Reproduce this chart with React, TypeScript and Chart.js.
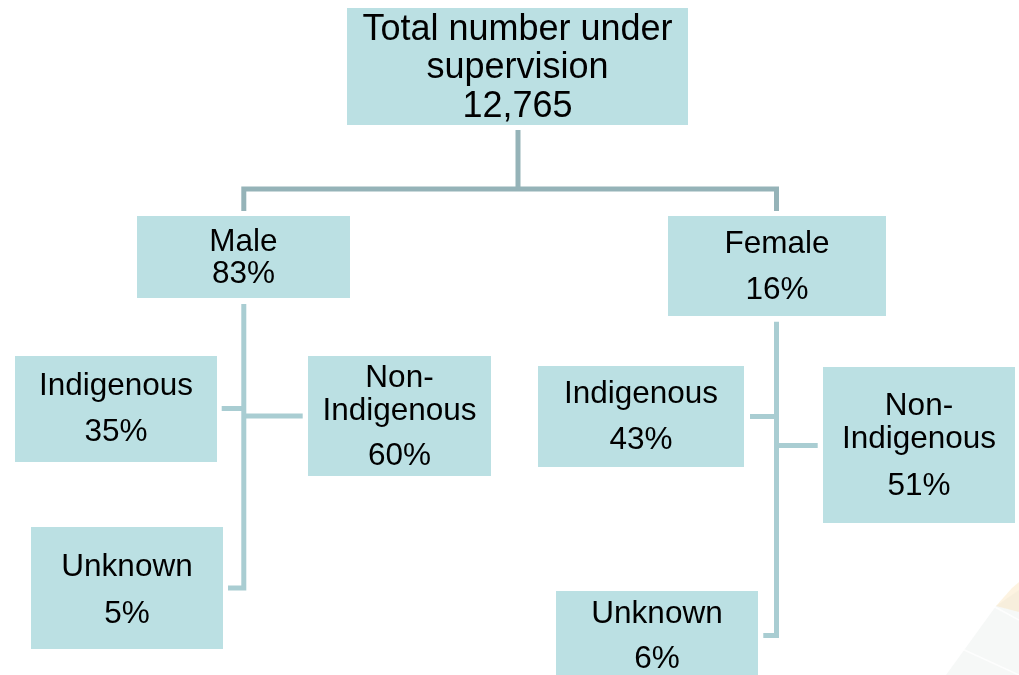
import React, { useEffect, useRef } from "react";
import { Chart, registerables } from "chart.js";

Chart.register(...registerables);

// ---- Data ----
const ROOT_LABEL = "Total number under supervision";
const TOTAL_SUPERVISED = 12765;
const GENDER_LABELS = ["Male", "Female"];
const GENDER_SHARES = [83, 16];
const GROUP_LABELS = ["Indigenous", "Non-Indigenous", "Unknown"];
const MALE_GROUP_SHARES = [35, 60, 5];
const FEMALE_GROUP_SHARES = [43, 51, 6];

// ---- Layout (axis units = pixels of a 1019x675 page) ----
type Box = { x0: number; x1: number; y0: number; y1: number; baselines: number[]; font: number };
const ROOT_BOX: Box = { x0: 347, x1: 688, y0: 8, y1: 125, baselines: [40, 78, 117], font: 36 };
const GENDER_BOXES: Box[] = [
  { x0: 137, x1: 350, y0: 216, y1: 298, baselines: [251, 283], font: 31.5 },
  { x0: 668, x1: 886, y0: 216, y1: 316, baselines: [253, 299], font: 31.5 },
];
const GROUP_BOXES: Box[][] = [
  [
    { x0: 15, x1: 217, y0: 356, y1: 462, baselines: [395, 441], font: 31.5 },
    { x0: 308, x1: 491, y0: 356, y1: 476, baselines: [387, 420, 465], font: 31.5 },
    { x0: 31, x1: 223, y0: 527, y1: 649, baselines: [576, 623], font: 31.5 },
  ],
  [
    { x0: 538, x1: 744, y0: 366, y1: 467, baselines: [403, 449], font: 31.5 },
    { x0: 823, x1: 1015, y0: 367, y1: 523, baselines: [415, 448, 495], font: 31.5 },
    { x0: 556, x1: 758, y0: 591, y1: 685, baselines: [623, 668], font: 31.5 },
  ],
];
// connector trunks for each gender
const TRUNKS = [
  { x: 243.8, top: 304, bottom: 588, hookX: 228, leftX: 221.7, leftY: 408.5, rightX: 302.7, rightY: 416 },
  { x: 776.5, top: 321.7, bottom: 635.5, hookX: 763.3, leftX: 750, leftY: 416.5, rightX: 817.7, rightY: 445.5 },
];
const ROOT_STEM = { x: 518, top: 130, bar: 189, drop: 211 };

const BOX_FILL = "#BBE0E3";
const DARK_LINE = "#95B3B8";
const LIGHT_LINE = "#A9CDD2";
const FONT_FAMILY = "'Liberation Sans', Arial, sans-serif";

function wrapLabel(ctx: CanvasRenderingContext2D, text: string, maxWidth: number): string[] {
  const tokens: string[] = [];
  text.split(" ").forEach((w, i, arr) => {
    const parts = w.split(/(?<=-)/);
    parts.forEach((p, j) => tokens.push(p + (j === parts.length - 1 && i < arr.length - 1 ? " " : "")));
  });
  const lines: string[] = [];
  let cur = "";
  for (const t of tokens) {
    const test = cur + t;
    if (cur && ctx.measureText(test.trimEnd()).width > maxWidth) {
      lines.push(cur.trimEnd());
      cur = t;
    } else cur = test;
  }
  if (cur) lines.push(cur.trimEnd());
  return lines;
}

function seg(points: { x: number; y: number }[], color: string) {
  return {
    type: "scatter" as const,
    data: points,
    showLine: true,
    borderColor: color,
    borderWidth: 5,
    pointRadius: 0,
    pointHoverRadius: 0,
    fill: false,
    tension: 0,
    borderJoinStyle: "miter" as const,
    borderCapStyle: "butt" as const,
  };
}

export default function App() {
  const ref = useRef<HTMLCanvasElement | null>(null);

  useEffect(() => {
    document.body.style.margin = "0";
    const canvas = ref.current;
    if (!canvas) return;

    const datasets: any[] = [];
    datasets.push(seg([{ x: ROOT_STEM.x, y: ROOT_STEM.top }, { x: ROOT_STEM.x, y: ROOT_STEM.bar }], DARK_LINE));
    datasets.push(
      seg(
        [
          { x: TRUNKS[0].x, y: ROOT_STEM.drop },
          { x: TRUNKS[0].x, y: ROOT_STEM.bar },
          { x: TRUNKS[1].x, y: ROOT_STEM.bar },
          { x: TRUNKS[1].x, y: ROOT_STEM.drop },
        ],
        DARK_LINE
      )
    );
    TRUNKS.forEach((t) => {
      datasets.push(
        seg(
          [
            { x: t.x, y: t.top },
            { x: t.x, y: t.bottom },
            { x: t.hookX, y: t.bottom },
          ],
          LIGHT_LINE
        )
      );
      datasets.push(seg([{ x: t.leftX, y: t.leftY }, { x: t.x, y: t.leftY }], LIGHT_LINE));
      datasets.push(seg([{ x: t.x, y: t.rightY }, { x: t.rightX, y: t.rightY }], LIGHT_LINE));
    });

    type Node = { box: Box; label: string; value: string };
    const nodes: Node[] = [
      { box: ROOT_BOX, label: ROOT_LABEL, value: TOTAL_SUPERVISED.toLocaleString("en-US") },
    ];
    GENDER_LABELS.forEach((g, i) => {
      nodes.push({ box: GENDER_BOXES[i], label: g, value: GENDER_SHARES[i] + "%" });
      const shares = i === 0 ? MALE_GROUP_SHARES : FEMALE_GROUP_SHARES;
      GROUP_LABELS.forEach((lab, j) => {
        nodes.push({ box: GROUP_BOXES[i][j], label: lab, value: shares[j] + "%" });
      });
    });

    const diagramPlugin = {
      id: "diagram",
      beforeDatasetsDraw(chart: any) {
        const { ctx, scales } = chart;
        const X = (v: number) => scales.x.getPixelForValue(v);
        const Y = (v: number) => scales.y.getPixelForValue(v);
        ctx.save();
        // faint background decoration (bottom-right)
        const poly = (pts: number[][], fill: string) => {
          ctx.beginPath();
          pts.forEach(([a, b], k) => (k ? ctx.lineTo(X(a), Y(b)) : ctx.moveTo(X(a), Y(b))));
          ctx.closePath();
          ctx.fillStyle = fill;
          ctx.fill();
        };
        poly([[946, 675], [996, 606], [1019, 590], [1019, 675]], "rgba(236,239,237,0.45)");
        poly([[996, 606], [1012, 588], [1019, 582], [1019, 612]], "rgba(250,226,180,0.4)");
        ctx.strokeStyle = "rgba(255,255,255,0.8)";
        ctx.lineWidth = 1.5;
        ctx.beginPath();
        ctx.moveTo(X(960), Y(648));
        ctx.lineTo(X(1019), Y(675));
        ctx.moveTo(X(995), Y(607));
        ctx.lineTo(X(1019), Y(620));
        ctx.stroke();
        // boxes
        ctx.fillStyle = BOX_FILL;
        nodes.forEach(({ box }) => {
          const x0 = X(box.x0), x1 = X(box.x1), y0 = Y(box.y0), y1 = Y(box.y1);
          ctx.fillRect(x0, y0, x1 - x0, y1 - y0);
        });
        ctx.restore();
      },
      afterDatasetsDraw(chart: any) {
        const { ctx, scales } = chart;
        const X = (v: number) => scales.x.getPixelForValue(v);
        const Y = (v: number) => scales.y.getPixelForValue(v);
        ctx.save();
        ctx.fillStyle = "#000";
        ctx.textAlign = "center";
        ctx.textBaseline = "alphabetic";
        nodes.forEach(({ box, label, value }) => {
          ctx.font = `${box.font}px ${FONT_FAMILY}`;
          const x0 = X(box.x0), x1 = X(box.x1);
          const lines = [...wrapLabel(ctx, label, x1 - x0 - 16), value];
          const cx = (x0 + x1) / 2;
          lines.forEach((ln, k) => {
            const b = box.baselines[k] ?? box.baselines[box.baselines.length - 1] + (k - box.baselines.length + 1) * box.font * 1.1;
            ctx.fillText(ln, cx, Y(b));
          });
        });
        ctx.restore();
      },
    };

    const chart = new Chart(canvas, {
      type: "scatter",
      data: { datasets },
      options: {
        animation: false,
        responsive: false,
        maintainAspectRatio: false,
        layout: { padding: 0 },
        events: [],
        scales: {
          x: { type: "linear", min: 0, max: 1019, display: false },
          y: { type: "linear", min: 0, max: 675, reverse: true, display: false },
        },
        plugins: { legend: { display: false }, tooltip: { enabled: false }, title: { display: false } },
      },
      plugins: [diagramPlugin],
    });
    return () => chart.destroy();
  }, []);

  return (
    <div style={{ width: 1019, height: 675, background: "#fff" }}>
      <canvas ref={ref} width={1019} height={675} style={{ display: "block" }} />
    </div>
  );
}
